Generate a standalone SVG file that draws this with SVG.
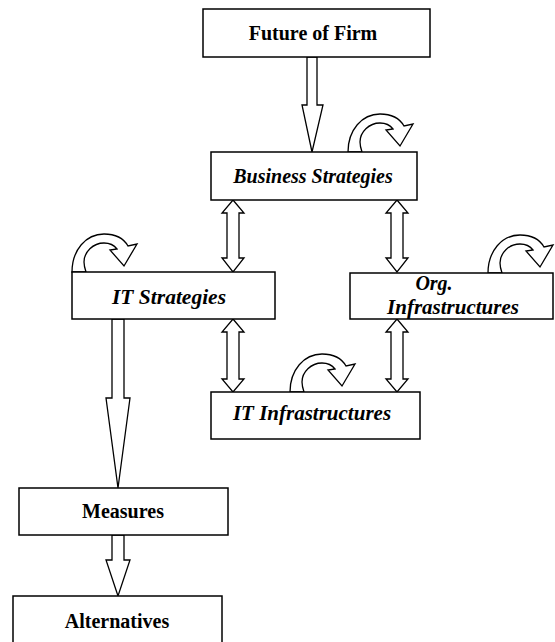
<svg xmlns="http://www.w3.org/2000/svg" xmlns:xlink="http://www.w3.org/1999/xlink" width="555" height="642" viewBox="0 0 555 642">
<style>
.box{fill:#fff;stroke:#000;stroke-width:1.5}
.arr{fill:#fff;stroke:#000;stroke-width:1.3;stroke-linejoin:miter}
.t{font-family:"Liberation Serif","Times New Roman",serif;font-size:20px;font-weight:bold;fill:#000;text-anchor:middle}
.i{font-style:italic}
</style>
<defs>
<path id="loop" d="M0,0 C0,-22 14,-38 32,-38 C44,-38 52,-33 56,-26 L65,-28 L52,-6 L38,-22 L45,-23 C42,-27 38,-29 32,-29 C21,-29 12,-20 12,-10 C12,-6 13,-3 14,0 Z"/>
</defs>
<rect width="555" height="642" fill="#fff"/>
<g id="connectors">
<path class="arr" d="M307,57 L317,57 L317,105 L323,105 L312,152 L302,105 L307,105 Z"/>
<path class="arr" d="M233,200 L244,213 L239,213 L239,258 L244,258 L233,272 L222,258 L227,258 L227,213 L222,213 Z"/>
<path class="arr" d="M397,200 L408,213 L403,213 L403,258 L408,258 L397,272 L386,258 L391,258 L391,213 L386,213 Z"/>
<path class="arr" d="M233,319 L244,332 L239,332 L239,379 L244,379 L233,392 L222,379 L227,379 L227,332 L222,332 Z"/>
<path class="arr" d="M397,319 L408,332 L403,332 L403,379 L408,379 L397,392 L386,379 L391,379 L391,332 L386,332 Z"/>
<path class="arr" d="M112,319 L124,319 L124,398 L130,398 L118,488 L106,398 L112,398 Z"/>
<path class="arr" d="M112,535 L124,535 L124,560 L130,560 L118,596 L106,560 L112,560 Z"/>
<use xlink:href="#loop" class="arr" x="348" y="152"/>
<use xlink:href="#loop" class="arr" x="72" y="272"/>
<use xlink:href="#loop" class="arr" x="488" y="273"/>
<use xlink:href="#loop" class="arr" x="290" y="392"/>
</g>
<g id="future"><rect class="box" x="203" y="9" width="227" height="48"/><text class="t" x="313" y="40">Future of Firm</text></g>
<g id="business"><rect class="box" x="211" y="152" width="206" height="48"/><text class="t i" x="313" y="183">Business Strategies</text></g>
<g id="itstrat"><rect class="box" x="72" y="272" width="203" height="47"/><text class="t i" x="169" y="304" style="font-size:21.5px">IT Strategies</text></g>
<g id="org"><rect class="box" x="350" y="273" width="203" height="46"/><text class="t i" x="434" y="290">Org.</text><text class="t i" x="453" y="314" style="font-size:21px">Infrastructures</text></g>
<g id="itinfra"><rect class="box" x="211" y="392" width="209" height="47"/><text class="t i" x="312" y="420" style="font-size:21px">IT Infrastructures</text></g>
<g id="measures"><rect class="box" x="19" y="488" width="209" height="47"/><text class="t" x="123" y="518">Measures</text></g>
<g id="alternatives"><rect class="box" x="13" y="596" width="209" height="50"/><text class="t" x="117" y="628">Alternatives</text></g>
</svg>
